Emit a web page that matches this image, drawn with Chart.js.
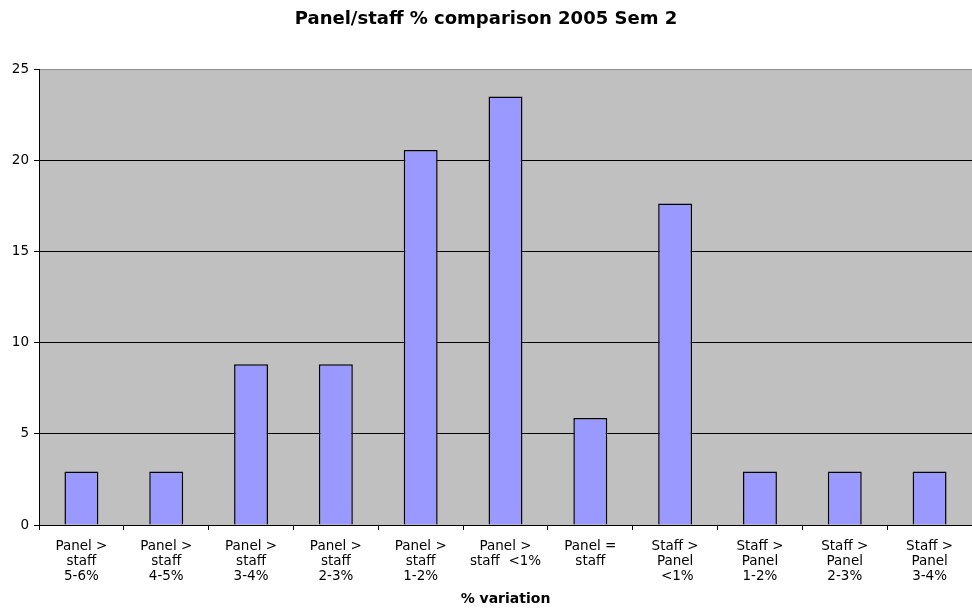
<!DOCTYPE html>
<html>
<head>
<meta charset="utf-8">
<script src="https://cdn.jsdelivr.net/npm/chart.js@4"></script>
<style>
  body { margin: 0; background: #fff; }
  #wrap { width: 972px; height: 610px; }
</style>
</head>
<body>
<div id="wrap"><canvas id="chart" width="972" height="610"></canvas></div>
<script>
// categories and values (percent of cases)
const categories = [
    ['Panel >', 'staff', '5-6%'],
    ['Panel >', 'staff', '4-5%'],
    ['Panel >', 'staff', '3-4%'],
    ['Panel >', 'staff', '2-3%'],
    ['Panel >', 'staff', '1-2%'],
    ['Panel >', 'staff  <1%'],
    ['Panel =', 'staff'],
    ['Staff >', 'Panel', ' <1%'],
    ['Staff >', 'Panel', '1-2%'],
    ['Staff >', 'Panel', '2-3%'],
    ['Staff >', 'Panel', '3-4%']
];
const values = [2.94, 2.94, 8.82, 8.82, 20.59, 23.53, 5.88, 17.65, 2.94, 2.94, 2.94];
const yTicks = [0, 5, 10, 15, 20, 25];

const font = "'DejaVu Sans', Verdana, sans-serif";

// grey plot area
const plotBg = {
    id: 'plotBg',
    beforeDraw(c) {
        const a = c.chartArea;
        const ctx = c.ctx;
        ctx.save();
        ctx.fillStyle = '#C0C0C0';
        ctx.fillRect(a.left, a.top, a.right - a.left, a.bottom - a.top);
        ctx.restore();
    }
};

const ctx = document.getElementById('chart').getContext('2d');
new Chart(ctx, {
    type: 'bar',
    data: {
        labels: categories,
        datasets: [{
            label: 'Panel/staff',
            data: values,
            backgroundColor: '#9999FF',
            borderColor: '#000000',
            borderWidth: 1.5,
            categoryPercentage: 1,
            barPercentage: 0.4
        }]
    },
    options: {
        responsive: false,
        devicePixelRatio: 1,
        animation: false,
        layout: { padding: 0 },
        plugins: {
            legend: { display: false },
            tooltip: { enabled: false },
            title: {
                display: true,
                text: 'Panel/staff % comparison 2005 Sem 2',
                color: '#000',
                font: { family: font, size: 18, weight: 'bold', lineHeight: 1.2 },
                padding: { top: 9, bottom: 39 }
            }
        },
        scales: {
            x: {
                grid: {
                    offset: true,
                    drawOnChartArea: false,
                    drawTicks: true,
                    tickLength: 5,
                    color: '#000'
                },
                border: { color: '#000', width: 1 },
                ticks: {
                    color: '#000',
                    padding: 9,
                    maxRotation: 0,
                    autoSkip: false,
                    font: { family: font, size: 13.5, lineHeight: 1.11 }
                },
                title: {
                    display: true,
                    text: '% variation',
                    color: '#000',
                    font: { family: font, size: 14, weight: 'bold', lineHeight: 1.2 },
                    padding: { top: 0, bottom: 2 }
                },
                afterFit(scale) { scale.height = 85; }
            },
            y: {
                min: 0,
                max: 25,
                afterBuildTicks(scale) { scale.ticks = yTicks.map(v => ({ value: v })); },
                grid: {
                    color: c => (c.tick && c.tick.value === 25) ? '#8C8C8C' : '#000',
                    tickColor: '#000',
                    tickLength: 5
                },
                border: { color: '#000', width: 1 },
                ticks: {
                    color: '#000',
                    padding: 5,
                    font: { family: font, size: 13.5 }
                },
                afterFit(scale) { scale.width = 39; }
            }
        }
    },
    plugins: [plotBg]
});
</script>
</body>
</html>
